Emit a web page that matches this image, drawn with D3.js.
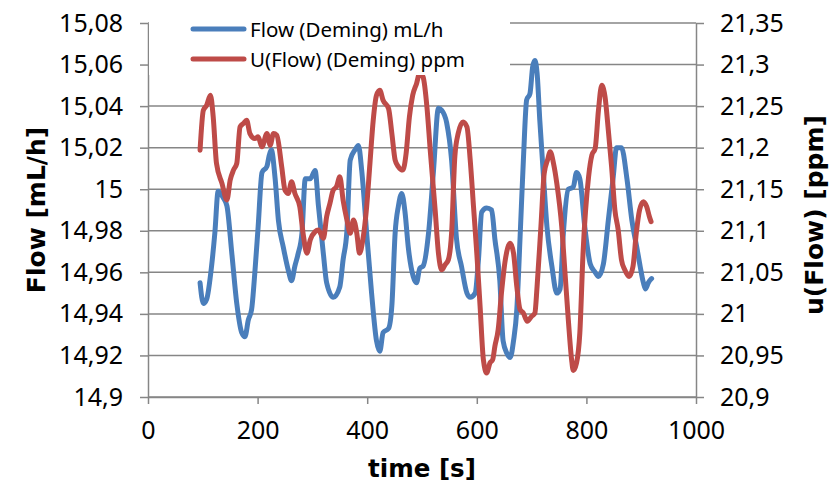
<!DOCTYPE html>
<html>
<head>
<meta charset="utf-8">
<script src="https://cdn.jsdelivr.net/npm/d3@7"></script>
<style>
  html, body { margin: 0; padding: 0; background: #fff; }
  svg { display: block; font-family: "Noto Sans", "Open Sans", sans-serif; }
</style>
</head>
<body>
<svg id="chart" width="839" height="485"></svg>
<script>
// time [s] and Flow (Deming) mL/h
var flowTime = [95, 101, 107, 116, 122, 128, 137, 144, 153, 162, 171, 177, 183, 189, 195, 201, 208, 217, 221, 225,
  232, 238, 247, 256, 262, 268, 274, 281, 287, 296, 305, 311, 320, 326, 338, 350, 356, 363, 369, 378, 384, 390,
  399, 408, 417, 423, 429, 439, 445, 451, 457, 463, 469, 475, 484, 490, 496, 502, 512, 521, 530, 536, 545, 554,
  563, 572, 582, 588, 597, 603, 609, 618, 627, 633, 642, 648, 655, 661, 667, 673, 679, 685, 691, 697, 702, 706,
  710, 715, 721, 728, 737, 746, 752, 758, 767, 776, 782, 788, 797, 807, 816, 822, 831, 840, 849, 855, 864, 874,
  883, 892, 898, 904, 908, 913, 919];
var flowValues = [14.955, 14.945, 14.947, 14.963, 14.979, 14.999, 14.996, 14.992, 14.969, 14.945, 14.931, 14.929,
  14.937, 14.942, 14.960, 14.982, 15.008, 15.011, 15.016, 15.019, 15.005, 14.985, 14.972, 14.961, 14.956, 14.963,
  14.969, 14.979, 15.005, 15.005, 15.009, 14.992, 14.969, 14.955, 14.948, 14.953, 14.966, 14.980, 15.014, 15.019,
  15.021, 15.009, 14.979, 14.950, 14.927, 14.922, 14.931, 14.933, 14.944, 14.979, 14.992, 14.998, 14.989, 14.972,
  14.958, 14.955, 14.962, 14.963, 14.979, 15.009, 15.039, 15.038, 15.032, 15.014, 14.976, 14.963, 14.950, 14.948,
  14.950, 14.966, 14.989, 14.991, 14.990, 14.976, 14.956, 14.927, 14.921, 14.919, 14.927, 14.942, 14.977, 15.014,
  15.043, 15.046, 15.059, 15.062, 15.056, 15.033, 15.009, 14.982, 14.963, 14.950, 14.952, 14.979, 15.000, 15.001,
  15.008, 15.005, 14.982, 14.964, 14.960, 14.958, 14.964, 14.985, 15.006, 15.020, 15.020, 15.005, 14.985, 14.972,
  14.963, 14.955, 14.952, 14.955, 14.957];

// time [s] and U(Flow) (Deming) ppm
var uTime = [95, 101, 107, 114, 119, 125, 135, 144, 150, 156, 162, 168, 174, 180, 186, 195, 201, 208, 217, 223,
  229, 235, 244, 250, 256, 262, 268, 277, 283, 290, 296, 305, 311, 320, 326, 332, 338, 344, 350, 356, 363, 369,
  375, 381, 386, 392, 399, 405, 411, 417, 423, 429, 439, 445, 451, 457, 465, 471, 477, 483, 490, 496, 502, 509,
  515, 524, 530, 536, 542, 548, 554, 560, 566, 575, 582, 588, 594, 600, 606, 612, 618, 624, 629, 633, 639, 645,
  652, 661, 667, 673, 679, 685, 692, 700, 706, 710, 717, 723, 729, 734, 740, 746, 755, 761, 767, 773, 776, 782,
  788, 794, 804, 810, 816, 822, 828, 834, 840, 846, 852, 858, 864, 870, 878, 885, 891, 897, 904, 910, 915, 918];
var uValues = [21.197, 21.245, 21.251, 21.263, 21.237, 21.181, 21.157, 21.137, 21.161, 21.173, 21.181, 21.225,
  21.229, 21.233, 21.217, 21.211, 21.213, 21.201, 21.217, 21.203, 21.217, 21.215, 21.177, 21.149, 21.145, 21.159,
  21.145, 21.129, 21.097, 21.073, 21.089, 21.099, 21.101, 21.091, 21.117, 21.133, 21.149, 21.153, 21.165, 21.137,
  21.113, 21.097, 21.113, 21.097, 21.073, 21.089, 21.129, 21.181, 21.233, 21.263, 21.269, 21.257, 21.247, 21.217,
  21.185, 21.177, 21.173, 21.193, 21.237, 21.263, 21.277, 21.290, 21.285, 21.249, 21.197, 21.125, 21.073, 21.053,
  21.059, 21.065, 21.097, 21.190, 21.217, 21.231, 21.225, 21.185, 21.129, 21.073, 21.009, 20.945, 20.929, 20.941,
  20.945, 20.961, 20.981, 21.025, 21.065, 21.085, 21.073, 21.033, 21.005, 21.001, 20.991, 20.997, 21.001, 21.033,
  21.105, 21.169, 21.185, 21.195, 21.181, 21.157, 21.105, 21.049, 20.993, 20.945, 20.932, 20.941, 20.977, 21.075,
  21.165, 21.191, 21.199, 21.245, 21.275, 21.261, 21.221, 21.177, 21.125, 21.101, 21.065, 21.053, 21.045, 21.057,
  21.097, 21.125, 21.135, 21.129, 21.117, 21.111];

var xTicks = [0, 200, 400, 600, 800, 1000];
var leftTicks = [14.9, 14.92, 14.94, 14.96, 14.98, 15, 15.02, 15.04, 15.06, 15.08];
var rightTicks = [20.9, 20.95, 21, 21.05, 21.1, 21.15, 21.2, 21.25, 21.3, 21.35];

var seriesNames = ["Flow (Deming) mL/h", "U(Flow) (Deming) ppm"];
var seriesColors = ["#4A7EBB", "#BE4B48"];

(function() {
  var svg = d3.select("#chart");
  var pLeft = 148, pRight = 696, pTop = 23, pBottom = 397;
  var grey = "#868686";
  var titleFont = "'DejaVu Sans', Verdana, sans-serif";

  var loc = d3.formatLocale({decimal: ",", thousands: ".", grouping: [3], currency: ["", ""]});
  var fmt = loc.format(".2~f");

  var x = d3.scaleLinear().domain([0, 1000]).range([pLeft, pRight]);
  var yL = d3.scaleLinear().domain([14.9, 15.08]).range([pBottom, pTop]);
  var yR = d3.scaleLinear().domain([20.9, 21.35]).range([pBottom, pTop]);

  // horizontal grid lines
  svg.append("g")
    .selectAll("line")
    .data(leftTicks)
    .enter().append("line")
      .attr("x1", pLeft).attr("x2", pRight)
      .attr("y1", function(d) { return yL(d); })
      .attr("y2", function(d) { return yL(d); })
      .style("stroke", grey)
      .style("stroke-width", 1.5);

  function styleAxis(g) {
    g.selectAll("path.domain").style("stroke", grey).style("stroke-width", 1.5);
    g.selectAll(".tick line").style("stroke", grey).style("stroke-width", 1.5);
    g.selectAll("text").style("font-family", "'Noto Sans', 'Open Sans', sans-serif")
      .style("font-size", "25px").style("fill", "#000");
  }

  var gx = svg.append("g")
    .attr("transform", "translate(0," + pBottom + ")")
    .call(d3.axisBottom(x).tickValues(xTicks).tickSize(7).tickSizeOuter(0).tickPadding(17)
      .tickFormat(d3.format("d")));
  styleAxis(gx);

  var gl = svg.append("g")
    .attr("transform", "translate(" + pLeft + ",0)")
    .call(d3.axisLeft(yL).tickValues(leftTicks).tickSize(8).tickSizeOuter(0).tickPadding(17)
      .tickFormat(fmt));
  styleAxis(gl);

  var gr = svg.append("g")
    .attr("transform", "translate(" + pRight + ",0)")
    .call(d3.axisRight(yR).tickValues(rightTicks).tickSize(8).tickSizeOuter(0).tickPadding(16)
      .tickFormat(fmt));
  styleAxis(gr);

  // series
  var flowLine = d3.line()
    .x(function(d, i) { return x(flowTime[i]); })
    .y(function(d) { return yL(d); })
    .curve(d3.curveMonotoneX);

  var uLine = d3.line()
    .x(function(d, i) { return x(uTime[i]); })
    .y(function(d) { return yR(d); })
    .curve(d3.curveMonotoneX);

  svg.append("path")
    .datum(flowValues)
    .attr("d", flowLine)
    .style("fill", "none")
    .style("stroke", seriesColors[0])
    .style("stroke-width", 5)
    .style("stroke-linejoin", "round")
    .style("stroke-linecap", "round");

  svg.append("path")
    .datum(uValues)
    .attr("d", uLine)
    .style("fill", "none")
    .style("stroke", seriesColors[1])
    .style("stroke-width", 5)
    .style("stroke-linejoin", "round")
    .style("stroke-linecap", "round");

  // legend box sits over the top of the plot
  var legend = svg.append("g");
  legend.append("rect")
    .attr("x", 149).attr("y", 4)
    .attr("width", 361).attr("height", 71)
    .style("fill", "#fff");

  var item = legend.selectAll("g.item")
    .data(seriesNames)
    .enter().append("g")
      .attr("class", "item")
      .attr("transform", function(d, i) { return "translate(0," + (29 + i * 30) + ")"; });

  item.append("line")
    .attr("x1", 193).attr("x2", 244)
    .style("stroke", function(d, i) { return seriesColors[i]; })
    .style("stroke-width", 5)
    .style("stroke-linecap", "round");

  item.append("text")
    .attr("x", 250).attr("y", 8)
    .style("font-size", "20.5px")
    .text(function(d) { return d; });

  // axis titles
  svg.append("text")
    .attr("transform", "translate(45,210) rotate(-90)")
    .attr("text-anchor", "middle")
    .style("font-family", titleFont)
    .style("font-weight", "bold")
    .style("font-size", "25px")
    .text("Flow [mL/h]");

  svg.append("text")
    .attr("transform", "translate(823,215) rotate(-90)")
    .attr("text-anchor", "middle")
    .style("font-family", titleFont)
    .style("font-weight", "bold")
    .style("font-size", "25px")
    .text("u(Flow) [ppm]");

  svg.append("text")
    .attr("x", (pLeft + pRight) / 2).attr("y", 477)
    .attr("text-anchor", "middle")
    .style("font-family", titleFont)
    .style("font-weight", "bold")
    .style("font-size", "24.5px")
    .text("time [s]");
})();
</script>
</body>
</html>
